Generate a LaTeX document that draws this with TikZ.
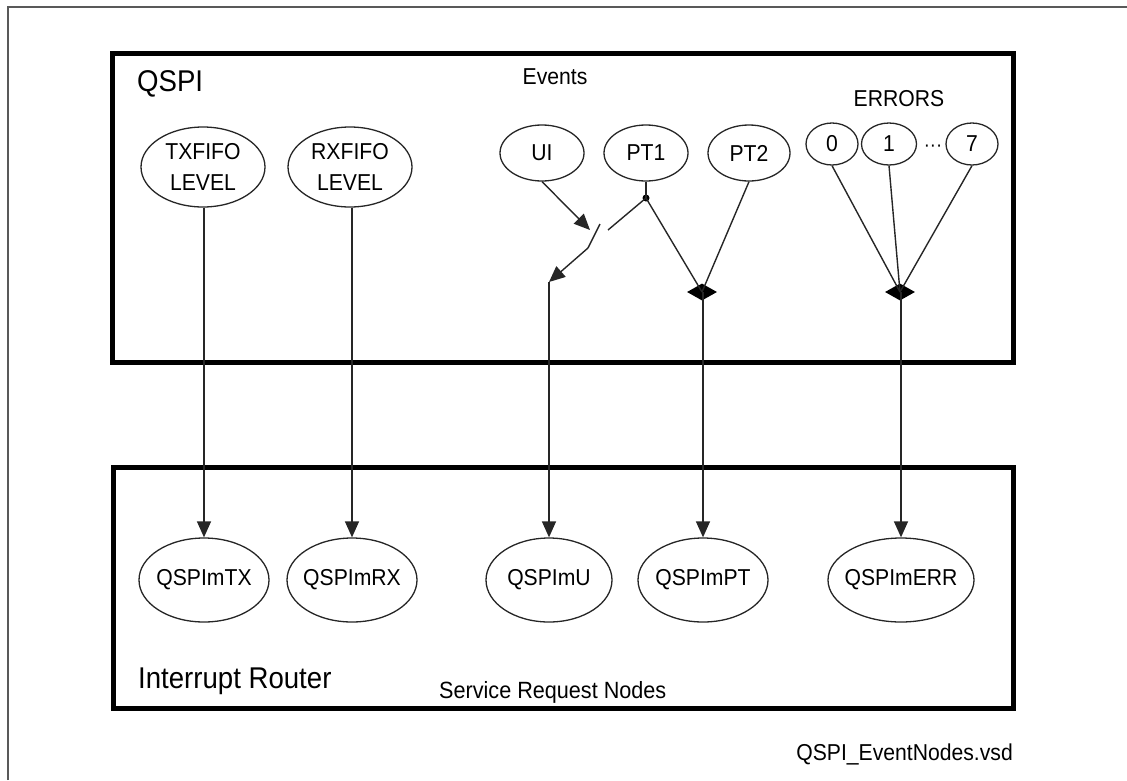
\documentclass[tikz,border=0pt]{standalone}
\usepackage{fontspec}
\setmainfont{Liberation Sans}[FakeStretch=0.92]
\usetikzlibrary{shapes.geometric,arrows.meta}
\newcommand\labfont{\fontsize{23}{31}\selectfont}
\newcommand\titlefont{\fontsize{30}{34}\selectfont}
\newcommand\srnfont{\fontsize{23.5}{26}\selectfont}
\newcommand\dotsfont{\fontsize{20}{20}\selectfont}
\tikzset{
  ev/.style={ellipse,draw=black!85,line width=1.3pt,inner xsep=-8pt,inner ysep=0pt,align=center,font=\labfont},
  box/.style={draw=black,line width=5pt},
  con/.style={draw=black!85,line width=1.4pt},
  arr/.style={con,-{Triangle[length=16pt,width=14pt]}},
  merge/.style={diamond,fill=black,draw=none,minimum width=30pt,minimum height=17pt,inner sep=0pt,aspect=1.76},
  txt/.style={inner sep=0pt}
}
\begin{document}
\begin{tikzpicture}[x=1pt,y=-1pt]
\useasboundingbox (0,0) rectangle (1127,780);
% page frame
\draw[line width=2pt,draw=black!65] (8,780) -- (8,7) -- (1127,7);
% boxes
\draw[box] (112,53) rectangle (1013,362);
\draw[box] (113,467) rectangle (1013,708);
% titles
\node[txt,anchor=base west,font=\titlefont] (qspi) at (137,91) {QSPI};
\node[txt,anchor=base,font=\labfont] (events) at (555,84) {Events};
\node[txt,anchor=base,font=\labfont] (errors) at (899,106) {ERRORS};
\node[txt,anchor=base west,font=\titlefont] (ir) at (138,688) {Interrupt Router};
\node[txt,anchor=base west,font=\srnfont] (srn) at (439,698) {Service Request Nodes};
\node[txt,anchor=base east,font=\labfont] (fn) at (1013,760) {QSPI\_EventNodes.vsd};
% top ellipses
\node[ev,minimum width=124pt,minimum height=80pt] (tx) at (203,167) {TXFIFO\\LEVEL};
\node[ev,minimum width=124pt,minimum height=80pt] (rx) at (350,167) {RXFIFO\\LEVEL};
\node[ev,minimum width=84pt,minimum height=56pt] (ui) at (542,153) {UI};
\node[ev,minimum width=84pt,minimum height=56pt] (pt1) at (646,153) {PT1};
\node[ev,minimum width=82pt,minimum height=56pt] (pt2) at (749,153) {PT2};
\node[ev,minimum width=52pt,minimum height=42pt] (e0) at (832,144) {0};
\node[ev,minimum width=55pt,minimum height=42pt] (e1) at (889,144) {1};
\node[ev,minimum width=52pt,minimum height=42pt] (e7) at (972,144) {7};
\node[txt,anchor=base,font=\dotsfont] (dots) at (933,151) {···};
% junctions
\node[circle,fill=black,inner sep=0pt,minimum size=7pt] (d) at (646,198) {};
\coordinate (swin) at (590,230);
\coordinate (swa) at (588,248);
\coordinate (swb) at (600,224);
\coordinate (swc) at (608,230);
\coordinate (corner) at (549,282);
\node[merge] (m1) at (702,292) {};
\node[merge] (m2) at (900,292) {};
% bottom ellipses
\node[ev,minimum width=130pt,minimum height=84pt] (mtx) at (204,580) {QSPImTX};
\node[ev,minimum width=130pt,minimum height=84pt] (mrx) at (352,580) {QSPImRX};
\node[ev,minimum width=126pt,minimum height=84pt] (mu) at (549,580) {QSPImU};
\node[ev,minimum width=130pt,minimum height=84pt] (mpt) at (703,580) {QSPImPT};
\node[ev,minimum width=146pt,minimum height=84pt] (merr) at (901,580) {QSPImERR};
% connectors
\draw[arr] (tx.south -| mtx.north) -- (mtx.north);
\draw[arr] (rx.south -| mrx.north) -- (mrx.north);
\draw[arr] (ui.south) -- (swin);
\draw[con] (swa) -- (swb);
\draw[con] (pt1.south) -- (d.center);
\draw[con] (d.center) -- (swc);
\draw[arr] (swa) -- (corner);
\draw[arr] (corner) -- (mu);
\draw[con] (d.center) -- (m1.center);
\draw[con] (pt2.south) -- (m1.center);
\draw[arr] (m1.center -| mpt.north) -- (mpt.north);
\draw[con] (e0.south) -- (m2.center);
\draw[con] (e1.south) -- (m2.center);
\draw[con] (e7.south) -- (m2.center);
\draw[arr] (m2.center -| merr.north) -- (merr.north);
\end{tikzpicture}
\end{document}
